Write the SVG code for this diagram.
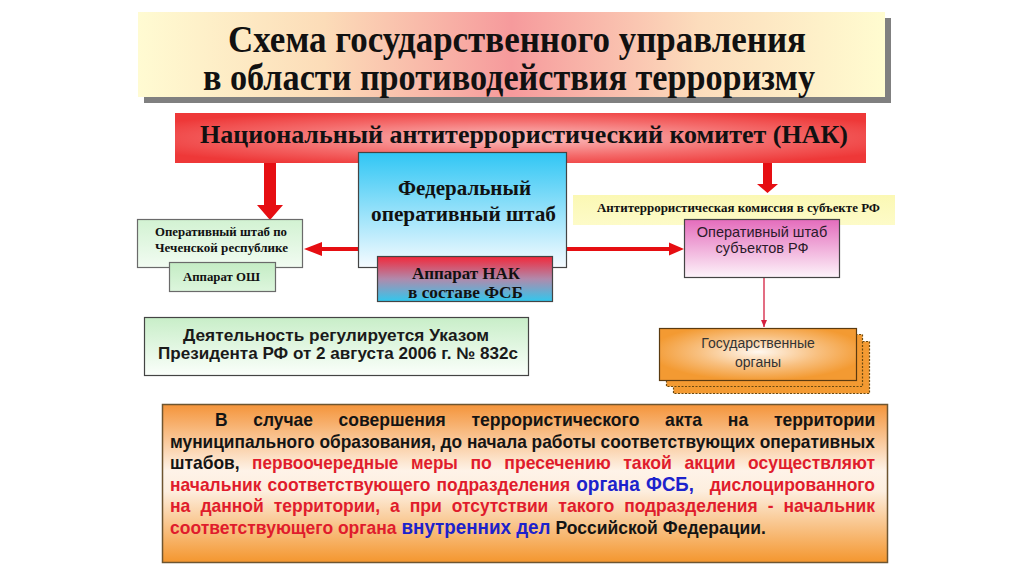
<svg xmlns="http://www.w3.org/2000/svg" width="1024" height="574" viewBox="0 0 1024 574">
<defs>
<linearGradient id="gTitle" x1="0" y1="0" x2="1" y2="0">
<stop offset="0" stop-color="#fffbd2"/><stop offset="0.25" stop-color="#fcdcb8"/><stop offset="0.5" stop-color="#f69a9c"/><stop offset="0.75" stop-color="#fcdcbc"/><stop offset="1" stop-color="#fffcd0"/>
</linearGradient>
<radialGradient id="gNak" cx="0.5" cy="0.5" r="0.6">
<stop offset="0" stop-color="#fbc0c0"/><stop offset="0.6" stop-color="#f46a6a"/><stop offset="1" stop-color="#ee3838"/>
</radialGradient>
<linearGradient id="gFed" x1="0" y1="0" x2="0" y2="1">
<stop offset="0" stop-color="#30c6f4"/><stop offset="1" stop-color="#f6fbff"/>
</linearGradient>
<linearGradient id="gApp" x1="0" y1="0" x2="0" y2="1">
<stop offset="0" stop-color="#f2283a"/><stop offset="0.5" stop-color="#b08aac"/><stop offset="1" stop-color="#30c8ee"/>
</linearGradient>
<linearGradient id="gGreen" x1="0" y1="0" x2="0" y2="1">
<stop offset="0" stop-color="#d2f2d2"/><stop offset="1" stop-color="#f2fcf2"/>
</linearGradient>
<linearGradient id="gGreen2" x1="0" y1="0" x2="0" y2="1">
<stop offset="0" stop-color="#c4ecc4"/><stop offset="1" stop-color="#ddf6dd"/>
</linearGradient>
<linearGradient id="gDecree" x1="0" y1="0" x2="0" y2="1">
<stop offset="0" stop-color="#c8eec8"/><stop offset="1" stop-color="#fbfffb"/>
</linearGradient>
<linearGradient id="gYellow" x1="0" y1="0" x2="0" y2="1">
<stop offset="0" stop-color="#fbf8b4"/><stop offset="1" stop-color="#fdfbc8"/>
</linearGradient>
<linearGradient id="gPink" x1="0" y1="0" x2="0" y2="1">
<stop offset="0" stop-color="#e46cbc"/><stop offset="1" stop-color="#fdf4fa"/>
</linearGradient>
<radialGradient id="gOrg" cx="0.5" cy="0.45" r="0.55">
<stop offset="0" stop-color="#fff8f0"/><stop offset="0.55" stop-color="#f8c080"/><stop offset="1" stop-color="#f39a32"/>
</radialGradient>
<linearGradient id="gBottom" x1="0" y1="0" x2="0" y2="1">
<stop offset="0" stop-color="#f4943a"/><stop offset="0.42" stop-color="#fef3e8"/><stop offset="0.55" stop-color="#fdeede"/><stop offset="1" stop-color="#f4962e"/>
</linearGradient>
<marker id="mThin" markerWidth="8" markerHeight="8" refX="7" refY="4" orient="auto" markerUnits="userSpaceOnUse">
<path d="M0,1 L7,4 L0,7 Z" fill="#d42040"/>
</marker>
</defs>
<style>
.serif{font-family:"Liberation Serif","Times New Roman",serif;font-weight:bold;fill:#111}
.sans{font-family:"Liberation Sans",Arial,sans-serif}
.b{font-weight:bold}
.box{stroke:#444;stroke-width:1.2}
.t{font-family:"Liberation Sans",Arial,sans-serif;font-weight:bold;font-size:18.5px}
.k{fill:#141414}
.r{fill:#e01c2c}
.bl{fill:#1c22cc;font-size:20px}
.arrow{fill:#e60e12}
</style>
<rect width="1024" height="574" fill="#ffffff"/>

<g id="title">
<rect x="144" y="18" width="747" height="85" fill="#808080"/>
<rect x="138" y="12" width="747" height="85" fill="url(#gTitle)"/>
<text class="serif" x="228" y="52" font-size="38" textLength="578" lengthAdjust="spacingAndGlyphs">Схема государственного управления</text>
<text class="serif" x="203" y="90" font-size="38" textLength="612" lengthAdjust="spacingAndGlyphs">в области противодействия терроризму</text>
</g>

<g id="nak">
<rect x="175" y="113" width="691" height="50" fill="url(#gNak)"/>
<text class="serif" x="200" y="143" font-size="26" textLength="648" lengthAdjust="spacingAndGlyphs">Национальный антитеррористический комитет (НАК)</text>
</g>

<g id="connectors">
<polygon class="arrow" points="264,163 276,163 276,205 283,205 270,220 257,205 264,205"/>
<polygon class="arrow" points="763,163 772,163 772,184 778,184 767.5,193 757,184 763,184"/>
<line x1="358" y1="249" x2="318" y2="249" stroke="#e60e12" stroke-width="4"/>
<polygon class="arrow" points="304,249 322,242 322,256"/>
<line x1="567" y1="249" x2="672" y2="249" stroke="#e60e12" stroke-width="4"/>
<polygon class="arrow" points="684,249 669,242.5 669,255.5"/>
<line x1="764" y1="278" x2="764" y2="327" stroke="#d42040" stroke-width="1.3" marker-end="url(#mThin)"/>
</g>

<g id="federal-hq">
<rect class="box" x="358.5" y="152.5" width="208" height="115" fill="url(#gFed)"/>
<text class="serif" x="398" y="195" font-size="22" textLength="133" lengthAdjust="spacingAndGlyphs">Федеральный</text>
<text class="serif" x="371" y="221" font-size="22" textLength="185" lengthAdjust="spacingAndGlyphs">оперативный штаб</text>
</g>

<g id="apparat-nak">
<rect class="box" x="377.5" y="256.5" width="175" height="45" fill="url(#gApp)"/>
<text class="serif" x="412" y="279" font-size="17.5" textLength="108" lengthAdjust="spacingAndGlyphs">Аппарат НАК</text>
<text class="serif" x="408" y="298" font-size="17.5" textLength="115" lengthAdjust="spacingAndGlyphs">в составе ФСБ</text>
</g>

<g id="chechen-hq">
<rect x="137.5" y="219.5" width="165" height="48" fill="url(#gGreen)" stroke="#6a6a6a" stroke-width="1.2"/>
<text class="serif" x="155" y="236" font-size="12.5" textLength="132" lengthAdjust="spacingAndGlyphs">Оперативный штаб по</text>
<text class="serif" x="155" y="252" font-size="12.5" textLength="133" lengthAdjust="spacingAndGlyphs">Чеченской республике</text>
</g>

<g id="apparat-osh">
<rect x="169.5" y="262.5" width="106" height="29" fill="url(#gGreen2)" stroke="#6a6a6a" stroke-width="1.2"/>
<text class="serif" x="183" y="281" font-size="13" textLength="77" lengthAdjust="spacingAndGlyphs">Аппарат ОШ</text>
</g>

<g id="commission">
<rect x="573" y="195" width="322" height="30" fill="url(#gYellow)"/>
<text class="serif" x="597" y="212" font-size="12.5" textLength="283" lengthAdjust="spacingAndGlyphs">Антитеррористическая комиссия в субъекте РФ</text>
</g>

<g id="subject-hq">
<rect class="box" x="684.5" y="219.5" width="155" height="58" fill="url(#gPink)"/>
<text class="sans" x="762" y="237" font-size="14.5" fill="#2a1a2a" text-anchor="middle">Оперативный штаб</text>
<text class="sans" x="762" y="253" font-size="14.5" fill="#2a1a2a" text-anchor="middle">субъектов РФ</text>
</g>

<g id="state-bodies">
<rect x="673.5" y="341.5" width="196" height="52" fill="#f39a32" stroke="#6a4a10" stroke-width="1.2" stroke-dasharray="2,1.5"/>
<rect x="666.5" y="334.5" width="196" height="52" fill="#f39a32" stroke="#6a4a10" stroke-width="1.2" stroke-dasharray="2,1.5"/>
<rect x="659.5" y="328.5" width="197" height="52" fill="url(#gOrg)" stroke="#5a3a10" stroke-width="1.2"/>
<text class="sans" x="758" y="348" font-size="14" fill="#333" text-anchor="middle">Государственные</text>
<text class="sans" x="758" y="367" font-size="14" fill="#333" text-anchor="middle">органы</text>
</g>

<g id="decree">
<rect class="box" x="144.5" y="317.5" width="384" height="58" fill="url(#gDecree)"/>
<text class="sans b" x="336" y="341" font-size="16.5" fill="#1a1a1a" text-anchor="middle" textLength="306" lengthAdjust="spacingAndGlyphs">Деятельность регулируется Указом</text>
<text class="sans b" x="338" y="359" font-size="16.5" fill="#1a1a1a" text-anchor="middle" textLength="360" lengthAdjust="spacingAndGlyphs">Президента РФ от 2 августа 2006 г. № 832с</text>
</g>

<g id="note">
<rect x="162.5" y="404.5" width="725" height="158" fill="url(#gBottom)" stroke="#6e5530" stroke-width="1.5"/>
<g class="t k">
<text x="215" y="426" textLength="12.6" lengthAdjust="spacingAndGlyphs">В</text>
<text x="253.3" y="426" textLength="59.6" lengthAdjust="spacingAndGlyphs">случае</text>
<text x="338.6" y="426" textLength="107.1" lengthAdjust="spacingAndGlyphs">совершения</text>
<text x="471.4" y="426" textLength="168" lengthAdjust="spacingAndGlyphs">террористического</text>
<text x="665.1" y="426" textLength="37" lengthAdjust="spacingAndGlyphs">акта</text>
<text x="727.8" y="426" textLength="20.4" lengthAdjust="spacingAndGlyphs">на</text>
<text x="773.9" y="426" textLength="101.4" lengthAdjust="spacingAndGlyphs">территории</text>
<text x="170" y="447.5" textLength="705" lengthAdjust="spacingAndGlyphs">муниципального образования, до начала работы соответствующих оперативных</text>
<text x="170" y="469" textLength="69.5" lengthAdjust="spacingAndGlyphs">штабов,</text>
</g>
<g class="t r">
<text x="252" y="469" textLength="146.4" lengthAdjust="spacingAndGlyphs">первоочередные</text>
<text x="410.9" y="469" textLength="47" lengthAdjust="spacingAndGlyphs">меры</text>
<text x="470.4" y="469" textLength="21.4" lengthAdjust="spacingAndGlyphs">по</text>
<text x="504.3" y="469" textLength="106.4" lengthAdjust="spacingAndGlyphs">пресечению</text>
<text x="623.2" y="469" textLength="48.7" lengthAdjust="spacingAndGlyphs">такой</text>
<text x="684.4" y="469" textLength="51.2" lengthAdjust="spacingAndGlyphs">акции</text>
<text x="748.1" y="469" textLength="126.9" lengthAdjust="spacingAndGlyphs">осуществляют</text>
<text x="170" y="490.5" textLength="91.4" lengthAdjust="spacingAndGlyphs">начальник</text>
<text x="267.5" y="490.5" textLength="163" lengthAdjust="spacingAndGlyphs">соответствующего</text>
<text x="436.6" y="490.5" textLength="133.5" lengthAdjust="spacingAndGlyphs">подразделения</text>
<text x="709.8" y="490.5" textLength="165.2" lengthAdjust="spacingAndGlyphs">дислоцированного</text>
<text x="170" y="512" textLength="20.4" lengthAdjust="spacingAndGlyphs">на</text>
<text x="200.4" y="512" textLength="63.4" lengthAdjust="spacingAndGlyphs">данной</text>
<text x="273.8" y="512" textLength="106.2" lengthAdjust="spacingAndGlyphs">территории,</text>
<text x="390" y="512" textLength="9.7" lengthAdjust="spacingAndGlyphs">а</text>
<text x="409.7" y="512" textLength="32.1" lengthAdjust="spacingAndGlyphs">при</text>
<text x="451.8" y="512" textLength="96.5" lengthAdjust="spacingAndGlyphs">отсутствии</text>
<text x="558.3" y="512" textLength="55.9" lengthAdjust="spacingAndGlyphs">такого</text>
<text x="624.2" y="512" textLength="133.5" lengthAdjust="spacingAndGlyphs">подразделения</text>
<text x="767.7" y="512" textLength="5.8" lengthAdjust="spacingAndGlyphs">-</text>
<text x="783.5" y="512" textLength="91.4" lengthAdjust="spacingAndGlyphs">начальник</text>
<text x="170" y="533.5" textLength="226.6" lengthAdjust="spacingAndGlyphs">соответствующего органа</text>
</g>
<g class="t">
<text class="bl" x="576.2" y="490.5" textLength="63.7" lengthAdjust="spacingAndGlyphs">органа</text>
<text class="bl" x="646" y="490.5" textLength="47.9" lengthAdjust="spacingAndGlyphs">ФСБ,</text>
<text class="bl" x="401.5" y="533.5" textLength="149" lengthAdjust="spacingAndGlyphs">внутренних дел</text>
<text class="k" x="555.5" y="533.5" textLength="210.3" lengthAdjust="spacingAndGlyphs">Российской Федерации.</text>
</g>
</g>
</svg>
